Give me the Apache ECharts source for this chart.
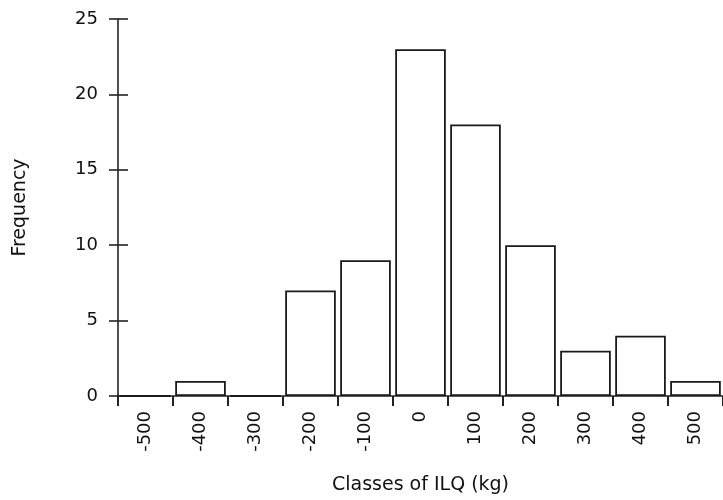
<!DOCTYPE html>
<html><head><meta charset="utf-8">
<script src="https://cdn.jsdelivr.net/npm/echarts@6/dist/echarts.min.js"></script>
<style>html,body{margin:0;padding:0;background:#fff}#c{width:723px;height:500px}</style>
</head><body><div id="c"></div>
<script>
var categories = ['-500','-400','-300','-200','-100','0','100','200','300','400','500'];
var frequency = [0, 1, 0, 7, 9, 23, 18, 10, 3, 4, 1];
var yTicks = [0, 5, 10, 15, 20, 25];

var chart = echarts.init(document.getElementById('c'));
var font = 'DejaVu Sans';
chart.setOption({
  animation: false,
  grid: {left: 118, right: -4.5, top: 19, bottom: 103, containLabel: false},
  xAxis: {
    type: 'category', data: categories, boundaryGap: true,
    name: 'Classes of ILQ (kg)', nameLocation: 'middle', nameGap: 80,
    nameTextStyle: {fontFamily: font, fontSize: 19, color: '#111'},
    axisLine: {lineStyle: {color: '#222', width: 1.6}},
    axisTick: {show: true, length: 10, lineStyle: {color: '#222', width: 2}},
    axisLabel: {rotate: 90, fontFamily: font, fontSize: 18, color: '#111', margin: 15, interval: 0}
  },
  yAxis: [{
    type: 'value', min: 0, max: 25, interval: 5,
    name: 'Frequency', nameLocation: 'middle', nameGap: 88, nameRotate: 90,
    nameTextStyle: {fontFamily: font, fontSize: 19, color: '#111'},
    axisLine: {show: true, lineStyle: {color: '#222', width: 1.6}},
    axisTick: {show: true, length: 9, lineStyle: {color: '#222', width: 1.6}},
    axisLabel: {fontFamily: font, fontSize: 18, color: '#111', margin: 20,
      formatter: function(v){ return yTicks.indexOf(v) >= 0 ? String(v) : ''; }},
    splitLine: {show: false}
  }, {
    type: 'value', min: 0, max: 25, interval: 5, position: 'left', offset: 0,
    axisLine: {show: false},
    axisTick: {show: true, inside: true, length: 10, lineStyle: {color: '#222', width: 1.6}},
    axisLabel: {show: false}, splitLine: {show: false}
  }],
  series: [{
    type: 'bar', data: frequency, barCategoryGap: '8%',
    itemStyle: {color: '#fff', borderColor: '#1a1a1a', borderWidth: 1.8},
    clip: true
  }]
});
</script></body></html>
